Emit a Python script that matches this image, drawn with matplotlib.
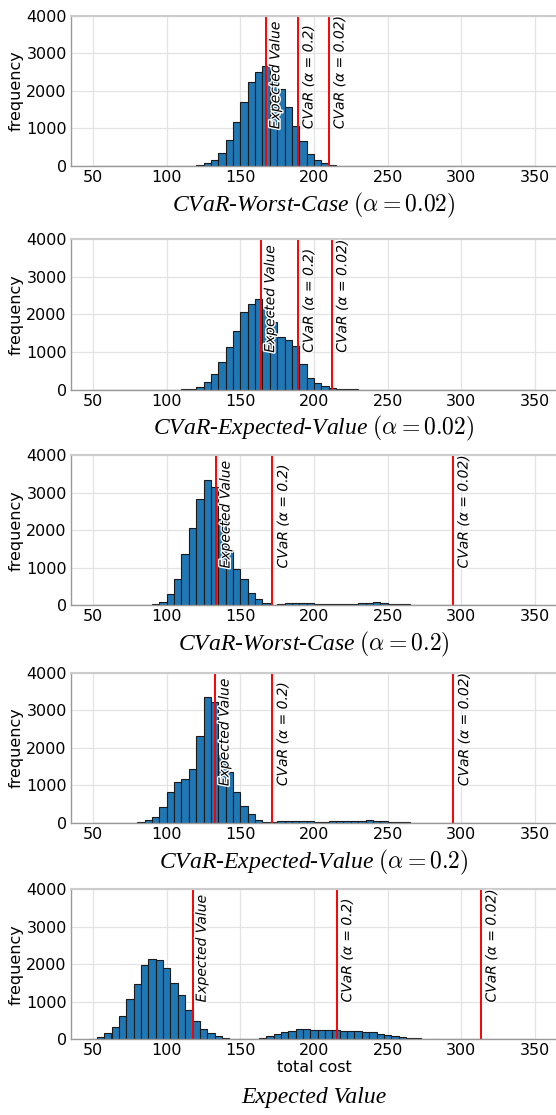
import numpy as np
import matplotlib
matplotlib.use("Agg")
import matplotlib.pyplot as plt
import matplotlib.patheffects as pe

# ---------------- data ----------------
bin_width = 5
# counts for 60 bins of width 5, starting at each panel's first edge
first_edge = [50, 50, 50, 50, 47.5]

def pad(start_index, values, n=60):
    out = [0] * n
    for k, v in enumerate(values):
        out[start_index + k] = v
    return out

counts_wc002 = pad(13, [5, 20, 75, 170, 355, 680, 1160, 1700, 2240, 2500, 2670, 2340,
                        2040, 1580, 1070, 670, 325, 170, 75, 35, 12, 5])
counts_ev002 = pad(12, [5, 25, 70, 200, 420, 725, 1124, 1548, 2061, 2274, 2415, 2211,
                        1796, 1398, 1309, 1168, 681, 301, 177, 97, 44, 20, 8, 3])
counts_wc02 = pad(7, [10, 30, 100, 310, 710, 1370, 2060, 2840, 3340, 3150, 2300, 1460,
                      970, 710, 320, 160, 55, 15, 30, 50, 55, 50, 55, 40, 35, 35,
                      40, 40, 45, 55, 60, 80, 65, 45, 35, 25, 15, 10, 15, 5, 3, 2,
                      2, 2, 3, 3, 5, 8, 10, 8, 5])
counts_ev02 = pad(6, [15, 80, 160, 434, 816, 1082, 1162, 1446, 2324, 3350, 3220, 1800,
                      1350, 830, 450, 230, 80, 30, 30, 45, 55, 50, 50, 40, 35, 35,
                      40, 40, 45, 55, 60, 75, 60, 45, 35, 25, 15, 10, 12, 5, 3, 2,
                      2, 2, 3, 3, 5, 8, 10, 8, 5, 3])
counts_ev = pad(0, [18, 62, 159, 318, 609, 1077, 1483, 1987, 2137, 2110, 1898, 1501,
                    1192, 768, 477, 283, 159, 80, 35, 18, 8, 5, 10, 30, 80, 150, 194,
                    212, 274, 283, 256, 238, 238, 238, 230, 221, 230, 203, 185, 150,
                    115, 80, 53, 35, 25, 10, 5, 3, 2, 2, 2, 2, 2, 5, 10, 15, 20, 15,
                    10, 5])

all_counts = [counts_wc002, counts_ev002, counts_wc02, counts_ev02, counts_ev]

line_expected = [167.5, 164.0, 133.7, 133.0, 117.5]
line_cvar02 = [189.0, 189.2, 171.8, 171.6, 215.3]
line_cvar002 = [210.1, 211.9, 294.3, 294.7, 313.3]

titles = [r"CVaR-Worst-Case $(\alpha = 0.02)$",
          r"CVaR-Expected-Value $(\alpha = 0.02)$",
          r"CVaR-Worst-Case $(\alpha = 0.2)$",
          r"CVaR-Expected-Value $(\alpha = 0.2)$",
          r"Expected Value"]

label_expected = "Expected Value"
label_cvar02 = r"CVaR ($\alpha$ = 0.2)"
label_cvar002 = r"CVaR ($\alpha$ = 0.02)"

xticks = [50, 100, 150, 200, 250, 300, 350]
yticks = [0, 1000, 2000, 3000, 4000]

# ---------------- figure ----------------
W, H = 556, 1115
fig = plt.figure(figsize=(W / 100, H / 100), dpi=100)
plt.rcParams['mathtext.fontset'] = 'cm'

ax_left_px, ax_right_px = 71, 557
ax_h_px = 150.3
tops_px = [15.7, 239.3, 455.0, 672.7, 889.0]

for i in range(5):
    top = tops_px[i]
    ax = fig.add_axes([ax_left_px / W, 1 - (top + ax_h_px) / H,
                       (ax_right_px - ax_left_px) / W, ax_h_px / H])
    ax.set_axisbelow(True)
    ax.grid(True, color='#e3e3e3', linewidth=0.9)
    edges = first_edge[i] + bin_width * np.arange(61)
    ax.bar(edges[:-1], all_counts[i], width=bin_width, align='edge',
           color='#1f77b4', edgecolor='#1a1a1a', linewidth=0.8)
    ax.set_xlim(35, 365)
    ax.set_ylim(0, 4000)
    ax.set_xticks(xticks)
    ax.set_yticks(yticks)
    ax.tick_params(length=0, labelsize=11.5, pad=3)
    for s in ['left', 'bottom']:
        ax.spines[s].set_color('#999999')
        ax.spines[s].set_linewidth(1.0)
    ax.spines['top'].set_color('#cccccc')
    ax.spines['top'].set_linewidth(1.5)
    ax.spines['right'].set_color('#cccccc')
    ax.set_ylabel('frequency', fontsize=11.5, labelpad=2)

    for xv, lab in [(line_expected[i], label_expected),
                    (line_cvar02[i], label_cvar02),
                    (line_cvar002[i], label_cvar002)]:
        ax.axvline(xv, color='red', linewidth=1.4)
        ax.text(xv + 1.5, 980, lab, rotation=90, ha='left', va='bottom',
                fontsize=10, style='italic', math_fontfamily='dejavusans',
                path_effects=[pe.withStroke(linewidth=2, foreground='white')])

    if i == 4:
        ax.set_xlabel('total cost', fontsize=11.5, labelpad=1)
        ty = top + ax_h_px + 58
    else:
        ty = top + ax_h_px + 39
    fig.text((ax_left_px + ax_right_px) / 2 / W, 1 - ty / H, titles[i],
             ha='center', va='center', fontsize=17, family='Liberation Serif',
             style='italic')

fig.savefig('out.png', dpi=100)
